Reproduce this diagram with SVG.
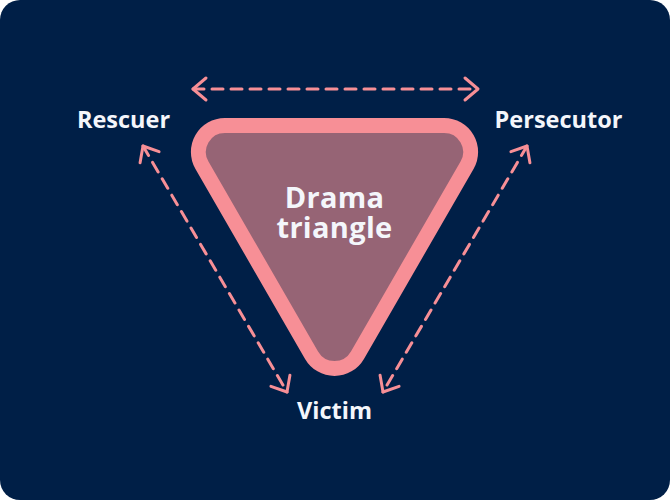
<svg xmlns="http://www.w3.org/2000/svg" width="670" height="500" viewBox="0 0 670 500">
<style>
.lbl{font-family:"Open Sans","Noto Sans",sans-serif;font-weight:700;fill:#f4f6fb;text-anchor:middle}
.conn{stroke:#f78f96;stroke-width:3;stroke-dasharray:11 8;fill:none;stroke-linecap:round}
</style>
<defs>
<marker id="chev" markerUnits="userSpaceOnUse" viewBox="-20 -20 40 40" markerWidth="40" markerHeight="40" refX="0" refY="0" orient="auto-start-reverse" overflow="visible">
<path d="M-13,-11 L0,0 L-13,11" fill="none" stroke="#f78f96" stroke-width="3" stroke-linecap="round" stroke-linejoin="round"/>
</marker>
</defs>
<rect x="0" y="0" width="670" height="500" rx="20" fill="#001f47"/>
<g id="triangle">
<path d="M224.9,125.5 L444.1,125.5 A26.5,26.5 0 0 1 467.05,165.25 L357.45,355.15 A26.5,26.5 0 0 1 311.55,355.15 L201.95,165.25 A26.5,26.5 0 0 1 224.9,125.5 Z" fill="#966475" stroke="#f78f96" stroke-width="15" stroke-linejoin="round"/>
<text class="lbl" x="334.5" y="208" font-size="29" letter-spacing="0.3">Drama</text>
<text class="lbl" x="334.5" y="238" font-size="29" letter-spacing="0.3">triangle</text>
</g>
<g id="rescuer"><text class="lbl" x="123.5" y="127.5" font-size="23.5">Rescuer</text></g>
<g id="persecutor"><text class="lbl" x="558.5" y="127.5" font-size="23.5">Persecutor</text></g>
<g id="victim"><text class="lbl" x="334.5" y="419" font-size="23.5">Victim</text></g>
<g id="connectors">
<line class="conn" x1="193" y1="89" x2="478" y2="89" marker-start="url(#chev)" marker-end="url(#chev)"/>
<line class="conn" x1="143" y1="146" x2="287" y2="392" marker-start="url(#chev)" marker-end="url(#chev)"/>
<line class="conn" x1="527" y1="146" x2="383" y2="392" marker-start="url(#chev)" marker-end="url(#chev)"/>
</g>
</svg>
